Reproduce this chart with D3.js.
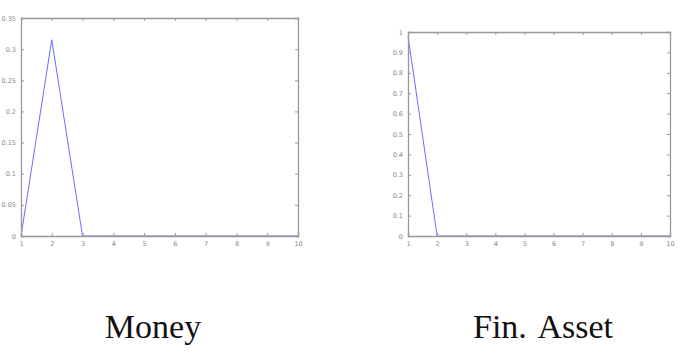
<!DOCTYPE html>
<html>
<head>
<meta charset="utf-8">
<script src="https://cdn.jsdelivr.net/npm/d3@7"></script>
<style>
  body { margin: 0; background: #fff; }
</style>
</head>
<body>
<div id="chart"></div>
<script>
// periods on the x axis
const periods = [1, 2, 3, 4, 5, 6, 7, 8, 9, 10];

// impulse responses
const moneyValues = [0, 0.315, 0, 0, 0, 0, 0, 0, 0, 0];
const assetValues = [0.98, 0, 0, 0, 0, 0, 0, 0, 0, 0];

// tick labels
const moneyTicks = [0, 0.05, 0.1, 0.15, 0.2, 0.25, 0.3, 0.35];
const assetTicks = [0, 0.1, 0.2, 0.3, 0.4, 0.5, 0.6, 0.7, 0.8, 0.9, 1];

const titles = ["Money", "Fin. Asset"];

const svg = d3.select("#chart").append("svg")
  .attr("width", 679)
  .attr("height", 357);

// draw one MATLAB style panel
function drawPanel(box, values, yTicks, yMax, title, titleX)
{
  const x = d3.scaleLinear().domain([1, 10]).range([box.left, box.right]);
  const y = d3.scaleLinear().domain([0, yMax]).range([box.bottom, box.top]);
  const g = svg.append("g");

  const line = d3.line()
    .x((d, i) => x(periods[i]))
    .y(d => y(d));

  // line first, so the box covers the zero part
  g.append("path")
    .datum(values)
    .attr("fill", "none")
    .attr("stroke", "#6b6bff")
    .attr("stroke-width", 1)
    .attr("d", line);

  // axes with inner ticks on all sides
  const axes = [
    [d3.axisBottom(x).tickValues(periods).tickSize(-3).tickPadding(5).tickFormat(d3.format("d")), `translate(0,${box.bottom})`],
    [d3.axisTop(x).tickValues(periods).tickSize(-3).tickFormat(""), `translate(0,${box.top})`],
    [d3.axisLeft(y).tickValues(yTicks).tickSize(-3).tickPadding(5).tickFormat(d => String(d)), `translate(${box.left},0)`],
    [d3.axisRight(y).tickValues(yTicks).tickSize(-3).tickFormat(""), `translate(${box.right},0)`]
  ];
  axes.forEach(([ax, tr]) => {
    const a = g.append("g").attr("transform", tr).call(ax);
    a.select(".domain").attr("stroke", "#999").attr("stroke-width", 1.3);
    a.selectAll(".tick line").attr("stroke", "#999");
    a.selectAll(".tick text")
      .attr("font-size", 6.5)
      .attr("font-family", "DejaVu Sans, sans-serif")
      .attr("fill", "#888");
  });

  svg.append("text")
    .attr("x", titleX)
    .attr("y", 338)
    .attr("text-anchor", "middle")
    .attr("font-family", "Liberation Serif, serif")
    .attr("font-size", 34)
    .attr("word-spacing", 4)
    .attr("fill", "#111")
    .text(title);
}

drawPanel({left: 21, right: 298, top: 18, bottom: 236}, moneyValues, moneyTicks, 0.35, titles[0], 153);
drawPanel({left: 408, right: 670, top: 32, bottom: 236}, assetValues, assetTicks, 1, titles[1], 543);
</script>
</body>
</html>
